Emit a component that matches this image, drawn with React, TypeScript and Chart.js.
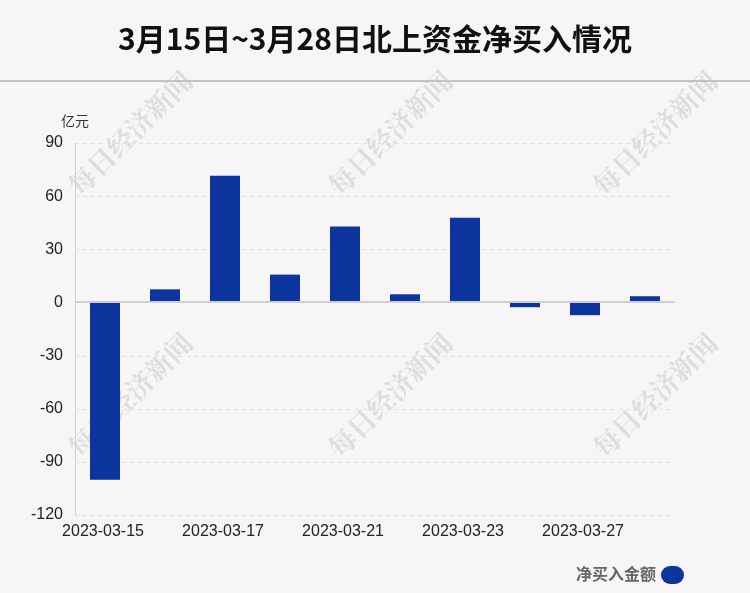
import React, { useEffect, useRef } from "react";
import { Chart, registerables } from "chart.js";

Chart.register(...registerables);

const dates = ["2023-03-15", "2023-03-16", "2023-03-17", "2023-03-20", "2023-03-21", "2023-03-22", "2023-03-23", "2023-03-24", "2023-03-27", "2023-03-28"];
const netBuy = [-100.1, 7.4, 71.5, 15.7, 42.8, 4.6, 47.8, -2.7, -7.2, 3.5];
const titleText = "3月15日~3月28日北上资金净买入情况";
const unitText = "亿元";
const legendText = "净买入金额";
const watermarkText = "每日经济新闻";
const barColor = "#0c359e";

const decorPlugin = {
  id: "decor",
  beforeDraw(chart: any) {
    const ctx = chart.ctx;
    const w = chart.width;
    ctx.save();
    ctx.fillStyle = "#f8f5f6";
    ctx.fillRect(0, 0, w, chart.height);
    // title
    ctx.fillStyle = "#111";
    ctx.font = "bold 30px 'Noto Sans CJK SC', sans-serif";
    ctx.textAlign = "center";
    ctx.textBaseline = "middle";
    ctx.fillText(titleText, w / 2, 39);
    // separator
    ctx.strokeStyle = "#c4c4c4";
    ctx.lineWidth = 2;
    ctx.beginPath();
    ctx.moveTo(0, 81);
    ctx.lineTo(w, 81);
    ctx.stroke();
    // watermarks
    ctx.fillStyle = "rgba(190,190,190,0.45)";
    ctx.font = "bold 27px 'Noto Serif CJK SC', 'Noto Sans CJK SC', serif";
    const centers = [[130, 133], [390, 133], [655, 133], [130, 395], [390, 395], [655, 395]];
    for (const [cx, cy] of centers) {
      ctx.save();
      ctx.translate(cx, cy);
      ctx.rotate(-Math.PI / 4);
      ctx.fillText(watermarkText, 0, 0);
      ctx.restore();
    }
    // unit
    ctx.fillStyle = "#333";
    ctx.font = "14px 'Noto Sans CJK SC', sans-serif";
    ctx.textAlign = "left";
    ctx.fillText(unitText, 61, 121);
    // legend
    ctx.fillStyle = "#666";
    ctx.font = "bold 16px 'Noto Sans CJK SC', sans-serif";
    ctx.textAlign = "right";
    ctx.fillText(legendText, 656, 574);
    ctx.fillStyle = barColor;
    const lx = 661, ly = 566, lw = 23, lh = 18, r = 9;
    ctx.beginPath();
    ctx.moveTo(lx + r, ly);
    ctx.lineTo(lx + lw - r, ly);
    ctx.arc(lx + lw - r, ly + r, r, -Math.PI / 2, Math.PI / 2);
    ctx.lineTo(lx + r, ly + lh);
    ctx.arc(lx + r, ly + r, r, Math.PI / 2, Math.PI * 1.5);
    ctx.closePath();
    ctx.fill();
    ctx.restore();
  },
};

const gridPlugin = {
  id: "dashgrid",
  beforeDatasetsDraw(chart: any) {
    const ctx = chart.ctx;
    const y = chart.scales.y;
    const { left, right } = chart.chartArea;
    ctx.save();
    for (const t of y.ticks) {
      const py = Math.round(y.getPixelForValue(t.value));
      if (t.value === 0) continue;
      ctx.strokeStyle = "#e2dfe0";
      ctx.lineWidth = 1;
      ctx.setLineDash([4, 4]);
      ctx.beginPath();
      ctx.moveTo(left, py + 0.5);
      ctx.lineTo(right, py + 0.5);
      ctx.stroke();
    }
    ctx.restore();
  },
  afterDatasetsDraw(chart: any) {
    const ctx = chart.ctx;
    const y = chart.scales.y;
    const { left, right } = chart.chartArea;
    const py = Math.round(y.getPixelForValue(0));
    ctx.save();
    ctx.strokeStyle = "#cfcdce";
    ctx.lineWidth = 2;
    ctx.beginPath();
    ctx.moveTo(left, py);
    ctx.lineTo(right, py);
    ctx.stroke();
    ctx.restore();
  },
};

export default function App() {
  const ref = useRef<HTMLCanvasElement>(null);
  useEffect(() => {
    const chart = new Chart(ref.current!, {
      type: "bar",
      data: {
        labels: dates,
        datasets: [
          {
            label: legendText,
            data: netBuy,
            backgroundColor: barColor,
            barPercentage: 0.5,
            categoryPercentage: 1,
          },
        ],
      },
      options: {
        animation: false,
        responsive: false,
        layout: { padding: { top: 143, right: 75, left: 0, bottom: 0 } },
        plugins: {
          legend: { display: false },
          title: { display: false },
          tooltip: { enabled: false },
        },
        scales: {
          x: {
            grid: { display: false, drawTicks: false },
            border: { display: false },
            ticks: {
              color: "#222",
              font: { size: 16, family: "'Liberation Sans', Arial, sans-serif" },
              maxRotation: 0,
              autoSkip: false,
              padding: 7,
              labelOffset: -2,
              callback: (_v: any, i: number) => (i % 2 === 0 ? dates[i] : ""),
            },
            afterFit: (s: any) => {
              s.height = 78;
            },
          },
          y: {
            min: -120,
            max: 90,
            ticks: {
              stepSize: 30,
              color: "#222",
              font: { size: 16, family: "'Liberation Sans', Arial, sans-serif" },
              padding: 12,
            },
            border: { display: true, color: "#d0d0d0", width: 1 },
            grid: { display: false, drawTicks: false },
            afterFit: (s: any) => {
              s.width = 75;
            },
          },
        },
      },
      plugins: [decorPlugin, gridPlugin],
    } as any);
    return () => chart.destroy();
  }, []);
  return (
    <div style={{ position: "fixed", left: 0, top: 0, width: 750, height: 593 }}>
      <canvas ref={ref} width={750} height={593} style={{ display: "block" }} />
    </div>
  );
}
